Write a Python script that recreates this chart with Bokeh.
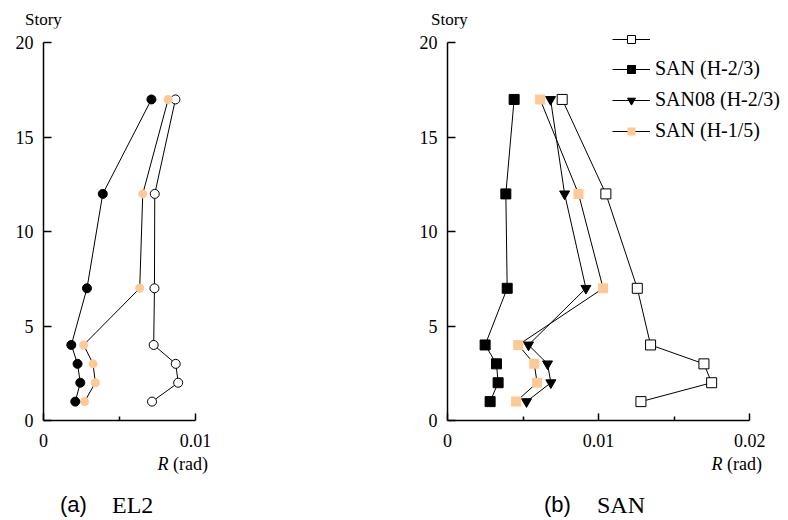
from bokeh.plotting import figure
from bokeh.models import FixedTicker, Legend, LegendItem, Div
from bokeh.layouts import row, column
from bokeh.embed import file_html
from bokeh.resources import INLINE

# ---------------- data ----------------
stories = [17, 12, 7, 4, 3, 2, 1]

# (a) EL2
el2_filled = [0.0071, 0.0039, 0.00286, 0.00183, 0.00224, 0.00242, 0.00209]
el2_orange = [0.0082, 0.00653, 0.00633, 0.00264, 0.00326, 0.00341, 0.0027]
el2_open = [0.00868, 0.00732, 0.0073, 0.00725, 0.0087, 0.00886, 0.00714]

# (b) SAN
san_open = [0.00759, 0.01048, 0.01256, 0.01344, 0.01697, 0.01748, 0.0128]
san_h23 = [0.00441, 0.00386, 0.00395, 0.00249, 0.00324, 0.00335, 0.00282]
san08_h23 = [0.00682, 0.00775, 0.00916, 0.00536, 0.00662, 0.00684, 0.00523]
san_h15 = [0.00613, 0.00867, 0.0103, 0.00468, 0.00574, 0.00593, 0.00454]

legend_labels = [" ", "SAN (H-2/3)", "SAN08 (H-2/3)", "SAN (H-1/5)"]

y_ticks = [0, 5, 10, 15, 20]
x_ticks_a = [0, 0.01]
x_minor_a = [0.005]
x_ticks_b = [0, 0.01, 0.02]
x_minor_b = [0.005, 0.015]
x_tick_labels = {0: "0", 0.01: "0.01", 0.02: "0.02"}
y_axis_title = "Story"
x_axis_symbol = "R"
x_axis_unit = "(rad)"
captions = [("(a)", "EL2"), ("(b)", "SAN")]

ORANGE = "#FFC996"
SERIF = "Liberation Serif"
SANS = "Liberation Sans"

TOP = 28          # height of the strip holding the "Story" titles
FRAME_H = 392     # frame height (y = 0 line sits at 420 px)
BOTTOM = 35       # space for the x tick labels
YMAX = 20.757     # frame top (slightly above 20 so the legend fits)


def make_fig(xmax, xbound, left, right, xt, xm):
    p = figure(width=394, height=FRAME_H + BOTTOM, title=None,
               x_range=(0, xmax), y_range=(0, YMAX),
               output_backend="svg", toolbar_location=None,
               min_border_left=left, min_border_right=right,
               min_border_top=0, min_border_bottom=BOTTOM)
    p.outline_line_color = None
    p.grid.visible = False
    p.background_fill_color = "white"
    p.border_fill_color = "white"
    for ax in (p.xaxis[0], p.yaxis[0]):
        ax.axis_line_color = "black"
        ax.axis_line_width = 1.5
        ax.major_tick_line_color = "black"
        ax.major_tick_line_width = 1.5
        ax.minor_tick_line_color = "black"
        ax.minor_tick_line_width = 1.5
        ax.major_tick_out = 0
        ax.minor_tick_out = 0
        ax.major_label_text_font = SERIF
        ax.major_label_text_font_size = "18px"
        ax.major_label_text_color = "black"
    p.yaxis.ticker = FixedTicker(ticks=y_ticks)
    p.yaxis.bounds = (0, 20)
    p.yaxis.major_tick_in = 8
    p.yaxis.major_label_standoff = 10
    p.xaxis.ticker = FixedTicker(ticks=xt, minor_ticks=xm)
    p.xaxis.bounds = (0, xbound)
    p.xaxis.major_tick_in = 7
    p.xaxis.minor_tick_in = 4
    p.xaxis.major_label_standoff = 13
    p.xaxis.major_label_overrides = {k: v for k, v in x_tick_labels.items() if k in xt}
    return p


def series(p, xs, marker, fill, line_color="black", size=9):
    ln = p.line(xs, stories, line_color="black", line_width=1)
    sc = p.scatter(xs, stories, marker=marker, size=size, fill_color=fill,
                   line_color=line_color, line_width=1)
    return ln, sc


# ---------------- (a) EL2 ----------------
p1 = make_fig(0.01, 0.01, 43, 199, x_ticks_a, x_minor_a)
series(p1, el2_open, "circle", "white")
series(p1, el2_orange, "circle", ORANGE, line_color=None)
series(p1, el2_filled, "circle", "black")

# ---------------- (b) SAN ----------------
p2 = make_fig(0.0225, 0.02, 53, 1, x_ticks_b, x_minor_b)
r0 = series(p2, san_open, "square", "white", size=10)
r1 = series(p2, san_h23, "square", "black", size=10)
r2 = series(p2, san08_h23, "inverted_triangle", "black", size=10)
r3 = series(p2, san_h15, "square", ORANGE, line_color=None, size=10)
legend = Legend(items=[LegendItem(label=lab, renderers=list(r))
                       for lab, r in zip(legend_labels, [r0, r1, r2, r3])],
                location=(165, 278))
legend.glyph_width = 38
legend.glyph_height = 20
legend.label_height = 20
legend.spacing = 8
legend.padding = 0
legend.margin = 0
legend.label_standoff = 5
legend.border_line_color = None
legend.background_fill_alpha = 0
legend.label_text_font = SERIF
legend.label_text_font_size = "20px"
legend.label_text_color = "black"
p2.add_layout(legend)

# ---------------- texts outside the frames ----------------
def span(text, css):
    return ('<span style="position:absolute;white-space:nowrap;color:black;'
            + css + '">' + text + '</span>')

top_html = ('<div style="position:relative;width:788px;height:%dpx;">' % TOP
            + span(y_axis_title, "left:25px;top:11px;font-family:'%s';font-size:17px;line-height:17px;" % SERIF)
            + span(y_axis_title, "left:431px;top:11px;font-family:'%s';font-size:17px;line-height:17px;" % SERIF)
            + '</div>')

bottom_h = 520 - TOP - FRAME_H - BOTTOM
xlab = '<i>%s</i> %s' % (x_axis_symbol, x_axis_unit)
bottom_html = ('<div style="position:relative;width:788px;height:%dpx;">' % bottom_h
               + span(xlab, "right:580px;top:0px;font-family:'%s';font-size:18px;line-height:18px;" % SERIF)
               + span(xlab, "right:26px;top:0px;font-family:'%s';font-size:18px;line-height:18px;" % SERIF)
               + span(captions[0][0], "left:60px;top:39px;font-family:'%s';font-size:22px;line-height:22px;" % SANS)
               + span(captions[0][1], "left:112px;top:38px;font-family:'%s';font-size:24px;line-height:24px;" % SERIF)
               + span(captions[1][0], "left:544px;top:39px;font-family:'%s';font-size:22px;line-height:22px;" % SANS)
               + span(captions[1][1], "left:597px;top:38px;font-family:'%s';font-size:24px;line-height:24px;" % SERIF)
               + '</div>')

top_div = Div(text=top_html, width=788, height=TOP, margin=0)
bottom_div = Div(text=bottom_html, width=788, height=bottom_h, margin=0)

layout = column(top_div, row(p1, p2, spacing=0), bottom_div, spacing=0)
open("out.html", "w").write(file_html(layout, INLINE))
